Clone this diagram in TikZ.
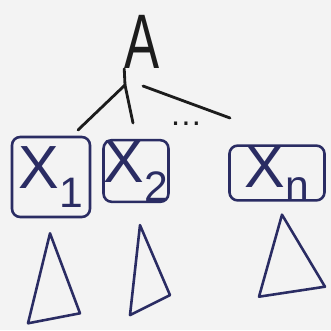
\documentclass[tikz,border=0pt]{standalone}
\usepackage{fontspec}
\setmainfont{Liberation Sans}
\usetikzlibrary{positioning}
\definecolor{inkblue}{HTML}{2A2C63}
\definecolor{inkblack}{HTML}{1C1C1C}
\definecolor{paper}{HTML}{F3F3F3}

\begin{document}
\begin{tikzpicture}[
  x=0.03cm, y=-0.03cm,
  line cap=round, line join=round,
  root/.style={text=inkblack, inner sep=0pt,
               font=\fontsize{66}{68}\selectfont},
  xbox/.style={draw=inkblue, text=inkblue, line width=2.2pt,
               rounded corners=7pt, inner sep=0pt,
               font=\fontsize{52}{56}\selectfont},
  branch/.style={draw=inkblack, line width=2.4pt},
  tri/.style={draw=inkblue, line width=2.2pt},
]

% paper
\fill[paper] (0,0) rectangle (331,330);
\useasboundingbox (0,0) rectangle (331,330);

%% ===== ROOT =====
\node[root] (A) at (142,42) {\scalebox{0.68}[1]{A}};
\coordinate (fork)  at (125,85);
\coordinate (forkr) at (143,86);

%% ===== CHILDREN =====
\node[xbox, minimum width=2.34cm, minimum height=2.4cm] (x1) at (51,177)
    {X\textsubscript{1}};
\node[xbox, minimum width=1.83cm, minimum height=1.71cm] (x2) at (136,171)
    {X\textsubscript{2}};
\node[xbox, minimum width=2.85cm, minimum height=1.59cm] (xn) at (277,173)
    {X\textsubscript{n}};

\node[text=inkblack, inner sep=0pt, font=\fontsize{28}{30}\selectfont]
    (dots) at (186,124) {\ldots};

%% ===== BRANCHES =====
\coordinate (e1) at (78,130);
\coordinate (e2) at (133,123);
\coordinate (en) at (230,118);

\draw[branch] (A.south west) -- (fork);
\draw[branch] (fork)  -- (e1);
\draw[branch] (fork)  -- (e2);
\draw[branch] (forkr) -- (en);

%% ===== SUBTREES =====
\draw[tri] (x1.south) ++(-1,15) -- ++(-22,90) -- ++(52,-10) -- cycle;
\draw[tri] (x2.south) ++(4,22)  -- ++(-10,90) -- ++(40,-20) -- cycle;
\draw[tri] (xn.south) ++(5,13)  -- ++(-23,82) -- ++(66,-10) -- cycle;

\end{tikzpicture}
\end{document}
